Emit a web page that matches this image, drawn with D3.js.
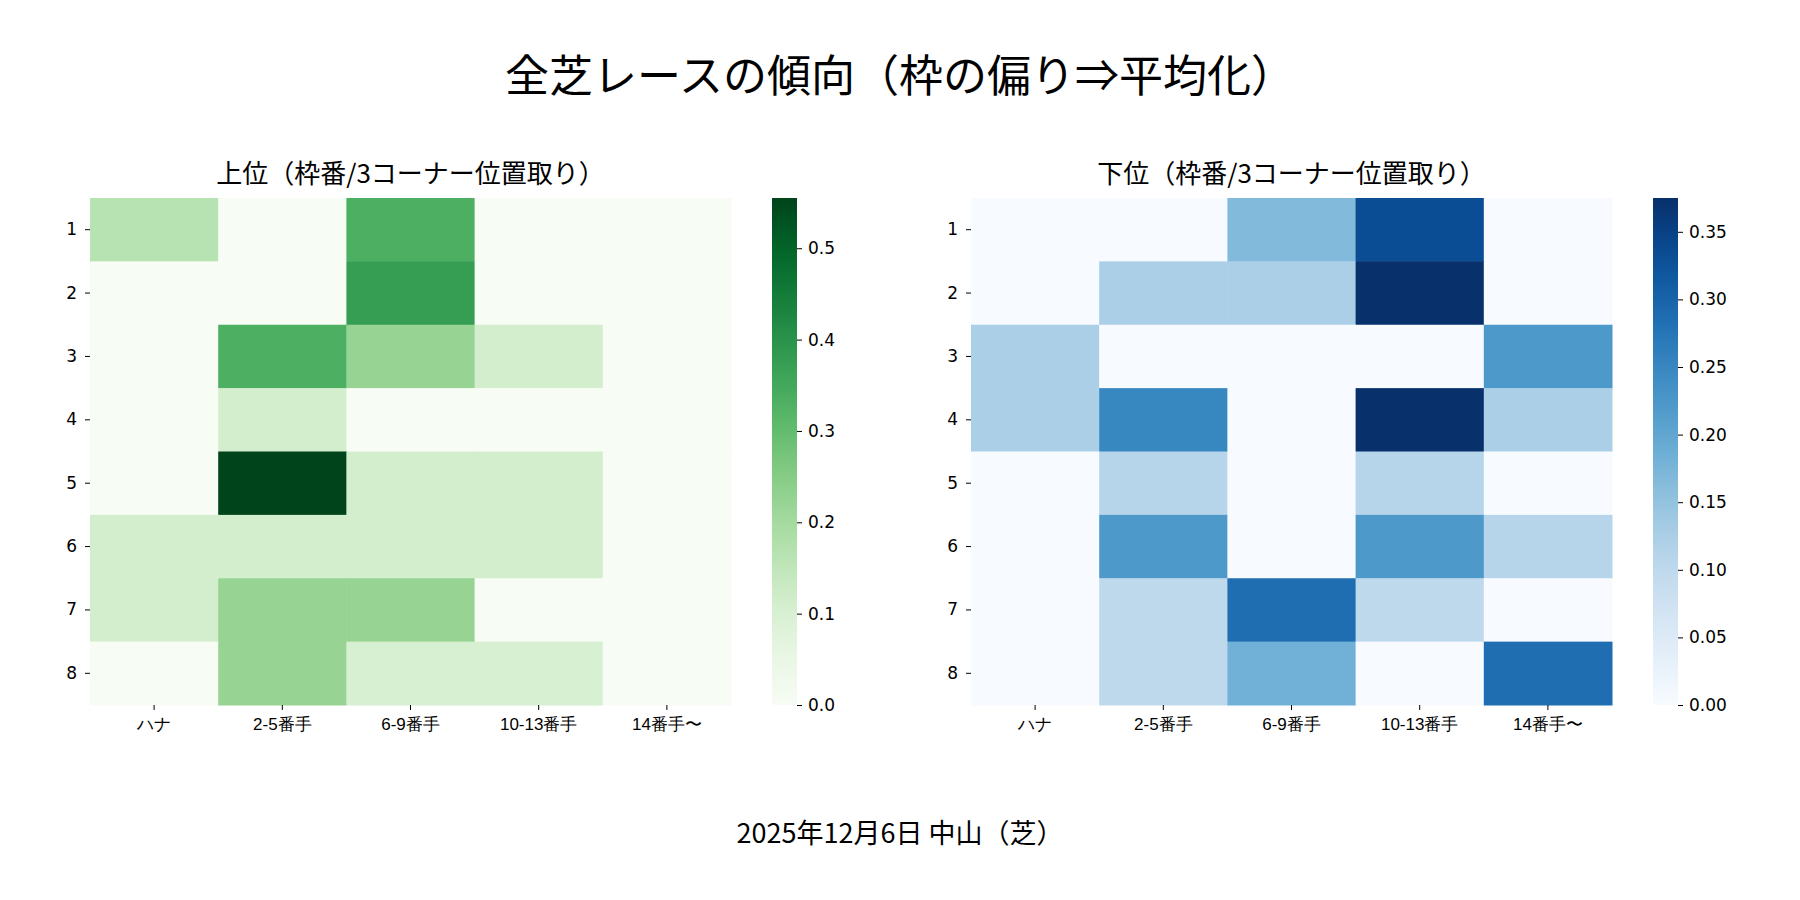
<!DOCTYPE html>
<html lang="ja">
<head>
<meta charset="UTF-8">
<script src="https://d3js.org/d3.v7.min.js"></script>
<style>
  body { margin: 0; background: #fff; font-family: "Noto Sans CJK JP", "DejaVu Sans", sans-serif; }
  svg { display: block; }
  text { fill: #000; }
</style>
</head>
<body>
<svg width="1800" height="900"></svg>
<script>
const rowLabels = ["1", "2", "3", "4", "5", "6", "7", "8"];
const colLabels = ["ハナ", "2-5番手", "6-9番手", "10-13番手", "14番手〜"];

const topValues = [
  [0.167, 0, 0.333, 0, 0],
  [0, 0, 0.375, 0, 0],
  [0, 0.333, 0.222, 0.111, 0],
  [0, 0.111, 0, 0, 0],
  [0, 0.555, 0.111, 0.111, 0],
  [0.111, 0.111, 0.111, 0.111, 0],
  [0.111, 0.222, 0.222, 0, 0],
  [0, 0.222, 0.1, 0.1, 0]
];
const bottomValues = [
  [0, 0, 0.167, 0.333, 0],
  [0, 0.125, 0.125, 0.375, 0],
  [0.125, 0, 0, 0, 0.222],
  [0.125, 0.25, 0, 0.375, 0.125],
  [0, 0.111, 0, 0.111, 0],
  [0, 0.222, 0, 0.222, 0.111],
  [0, 0.1, 0.286, 0.1, 0],
  [0, 0.1, 0.182, 0, 0.286]
];
const topTicks = [0, 0.1, 0.2, 0.3, 0.4, 0.5];
const bottomTicks = [0, 0.05, 0.1, 0.15, 0.2, 0.25, 0.3, 0.35];

const svg = d3.select("svg");

svg.append("text").attr("x", 900).attr("y", 92).attr("text-anchor", "middle")
  .style("font-size", "44px").text("全芝レースの傾向（枠の偏り⇒平均化）");
svg.append("text").attr("x", 900).attr("y", 843).attr("text-anchor", "middle")
  .style("font-size", "27px").text("2025年12月6日 中山（芝）");

function heatmap(x0, values, interp, vmax, ticks, fmt, title) {
  const top = 198, bottom = 705, width = 641;
  const x = d3.scaleBand().domain(colLabels).range([x0, x0 + width]);
  const y = d3.scaleBand().domain(rowLabels).range([top, bottom]);
  const color = d3.scaleSequential(interp).domain([0, vmax]);
  const g = svg.append("g");

  g.append("text").attr("x", x0 + width / 2).attr("y", 183).attr("text-anchor", "middle")
    .style("font-size", "26px").text(title);

  values.forEach((row, i) => row.forEach((v, j) => {
    g.append("rect")
      .attr("x", x(colLabels[j])).attr("y", y(rowLabels[i]))
      .attr("width", x.bandwidth() + 0.5).attr("height", y.bandwidth() + 0.5)
      .attr("fill", color(v));
  }));

  g.append("g").attr("transform", `translate(${x0},0)`)
    .call(d3.axisLeft(y).tickSize(5).tickPadding(8))
    .call(a => a.select(".domain").remove())
    .call(a => a.selectAll("text").style("font-size", "17px").style("font-family", "DejaVu Sans"));
  g.append("g").attr("transform", `translate(0,${bottom})`)
    .call(d3.axisBottom(x).tickSize(5).tickPadding(8))
    .call(a => a.select(".domain").remove())
    .call(a => a.selectAll("text").style("font-size", "17px"));

  // colorbar
  const cx = x0 + width + 41, cw = 25;
  const cy = d3.scaleLinear().domain([0, vmax]).range([bottom, top]);
  const id = "grad" + x0;
  const grad = svg.append("defs").append("linearGradient").attr("id", id)
    .attr("x1", 0).attr("y1", 1).attr("x2", 0).attr("y2", 0);
  d3.range(0, 1.001, 0.05).forEach(t => grad.append("stop")
    .attr("offset", t).attr("stop-color", color(t * vmax)));
  g.append("rect").attr("x", cx).attr("y", top).attr("width", cw)
    .attr("height", bottom - top).attr("fill", `url(#${id})`);
  g.append("g").attr("transform", `translate(${cx + cw},0)`)
    .call(d3.axisRight(cy).tickValues(ticks).tickFormat(fmt).tickSize(5).tickPadding(6))
    .call(a => a.select(".domain").remove())
    .call(a => a.selectAll("text").style("font-size", "17px").style("font-family", "DejaVu Sans"));
}

heatmap(90, topValues, d3.interpolateGreens, 0.555, topTicks, d3.format(".1f"),
  "上位（枠番/3コーナー位置取り）");
heatmap(971, bottomValues, d3.interpolateBlues, 0.375, bottomTicks, d3.format(".2f"),
  "下位（枠番/3コーナー位置取り）");
</script>
</body>
</html>
